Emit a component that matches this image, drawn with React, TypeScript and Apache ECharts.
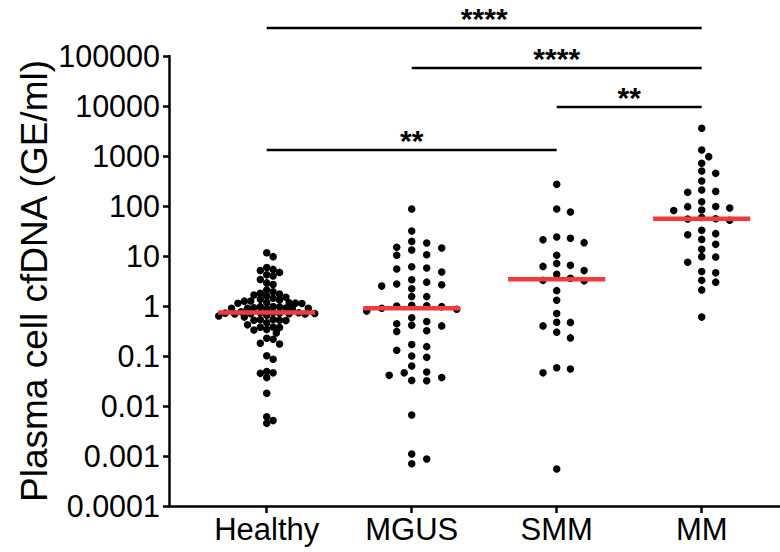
import React, { useEffect, useRef } from "react";
import * as echarts from "echarts";

// ---------- data ----------
const categories = ["Healthy", "MGUS", "SMM", "MM"];
const yTickLabels = ["0.0001", "0.001", "0.01", "0.1", "1", "10", "100", "1000", "10000", "100000"];

const healthy = [
  11.6, 9.7,
  5.9, 5.4, 5.1, 4.7, 4.2, 4.0, 3.4, 2.9, 2.7,
  2.1, 1.93, 1.8, 1.74,
  1.66, 1.58, 1.49, 1.43, 1.36, 1.32, 1.26, 1.25, 1.16, 1.17, 1.13, 1.12, 1.14,
  0.97, 0.98, 0.96, 0.92, 0.9, 0.89, 0.91, 0.9, 0.88, 0.9,
  0.77, 0.73, 0.73, 0.74, 0.71, 0.72, 0.69, 0.69, 0.7, 0.72, 0.7,
  0.65, 0.63, 0.6,
  0.54, 0.52, 0.52, 0.53, 0.51,
  0.46, 0.42,
  0.375, 0.37, 0.38, 0.34, 0.33, 0.29,
  0.226, 0.216, 0.18, 0.174,
  0.101, 0.086,
  0.049, 0.046, 0.045, 0.037,
  0.018,
  0.0061, 0.0051, 0.0045,
];

const mgus = [
  87, 31.6, 19.6, 18.2, 13.2, 14.9, 10.6, 14.5, 10.3,
  5.5, 4.8, 5.75, 6.1, 2.67, 3.36, 2.22, 2.5, 3.0, 2.75,
  1.54, 1.55, 0.9, 1.03, 0.86, 1.0, 0.97, 0.79, 1.01,
  0.4, 0.44, 0.58, 0.32, 0.49, 0.31, 0.41,
  0.17, 0.13, 0.094, 0.154, 0.1, 0.063,
  0.046, 0.032, 0.048, 0.0325, 0.037, 0.041,
  0.0066, 0.0011, 0.0007, 0.00087,
];

const smm = [
  271, 76, 87, 21.2, 22.6, 18.5, 24, 10.3,
  6.2, 7.1, 5.1, 6.5, 4.3, 3.26, 3.6, 3.2, 2.03, 1.3,
  0.71, 0.47, 0.475, 0.4, 0.3, 0.23,
  0.055, 0.046, 0.058, 0.00055,
];

const mm = [
  3575, 1318, 970, 714, 450, 501, 316,
  188, 196, 209, 97, 83, 91, 122, 81, 98,
  59, 52, 55, 55.5, 26.7, 28, 32.6, 21.5, 17.1, 13.6,
  9.5, 7.5, 9.7, 4.6, 4.9, 3.0, 3.26, 2.1, 0.6,
];

const groups = [healthy, mgus, smm, mm];

// significance brackets: from category, to category, bracket height (GE/ml), label
const bracketFrom = ["Healthy", "MGUS", "SMM", "Healthy"];
const bracketTo = ["MM", "MM", "MM", "SMM"];
const bracketLevel = [360000, 57000, 9500, 1300];
const bracketLabel = ["****", "****", "**", "**"];

// ---------- layout / style ----------
const FONT = "'Liberation Sans', Arial, Helvetica, sans-serif";
const SWARM_SPACING = [6.4, 15, 13.7, 14];
const SWARM_VGAP = [6.0, 7.3, 7.3, 7.3];
const DOT = 7.5;
const MEDIAN_HALF = 0.335;
const RED = "#EE3B3B";

function median(a: number[]) {
  const s = [...a].sort((x, y) => x - y);
  const n = s.length;
  return n % 2 ? s[(n - 1) / 2] : Math.sqrt(s[n / 2 - 1] * s[n / 2]);
}

function swarmOffsets(ys: number[], spacing: number, vgap: number): number[] {
  const order = ys.map((_, i) => i).sort((a, b) => ys[a] - ys[b]);
  const placed: { x: number; y: number }[] = [];
  const out = new Array(ys.length).fill(0);
  const g = spacing / 2;
  for (const i of order) {
    const y = ys[i];
    for (let k = 0; k < 400; k++) {
      const slot = k === 0 ? 0 : k % 2 === 1 ? (k + 1) / 2 : -k / 2;
      const x = slot * g;
      let ok = true;
      for (const p of placed) {
        const dx = (x - p.x) / spacing;
        const dy = (y - p.y) / vgap;
        if (dx * dx + dy * dy < 0.999) {
          ok = false;
          break;
        }
      }
      if (ok) {
        out[i] = x;
        placed.push({ x, y });
        break;
      }
    }
  }
  return out;
}

export default function App() {
  const ref = useRef<HTMLDivElement>(null);
  useEffect(() => {
    if (!ref.current) return;
    const chart = echarts.init(ref.current, null, { renderer: "svg" });
    const base: any = {
      animation: false,
      backgroundColor: "#fff",
      grid: { left: 169, right: 0, top: 56, bottom: 46, containLabel: false },
      xAxis: {
        type: "value",
        min: 0.326,
        max: 4.54,
        axisLine: { show: true, onZero: false, lineStyle: { color: "#000", width: 2.5 } },
        axisTick: { show: true, length: 7, customValues: [1, 2, 3, 4], lineStyle: { color: "#000", width: 2.5 } },
        axisLabel: {
          customValues: [1, 2, 3, 4],
          formatter: (v: number) => categories[Math.round(v) - 1] ?? "",
          fontSize: 31,
          color: "#000",
          fontFamily: FONT,
          margin: 8,
        },
        splitLine: { show: false },
      },
      yAxis: {
        type: "log",
        logBase: 10,
        min: 0.0001,
        max: 100000,
        axisLine: { show: true, onZero: false, lineStyle: { color: "#000", width: 2.5 } },
        axisTick: { show: true, length: 6, lineStyle: { color: "#000", width: 2.5 } },
        axisLabel: {
          fontSize: 30.5,
          color: "#000",
          fontFamily: FONT,
          margin: 9,
          formatter: (v: number) => yTickLabels[Math.round(Math.log10(v)) + 4] ?? "",
        },
        splitLine: { show: false },
        minorTick: { show: false },
        name: "Plasma cell cfDNA (GE/ml)",
        nameLocation: "middle",
        nameGap: 116,
        nameMoveOverlap: false,
        nameTextStyle: { fontSize: 37, color: "#000", fontFamily: FONT },
      },
      series: [{ type: "scatter", data: [] }],
    };
    chart.setOption(base);

    const px0 = chart.convertToPixel({ xAxisIndex: 0 }, 1) as number;
    const px1 = chart.convertToPixel({ xAxisIndex: 0 }, 2) as number;
    const unitPx = px1 - px0;

    const series: any[] = [];
    groups.forEach((vals, gi) => {
      const ys = vals.map((v) => chart.convertToPixel({ yAxisIndex: 0 }, v) as number);
      const offs = swarmOffsets(ys, SWARM_SPACING[gi], SWARM_VGAP[gi]);
      series.push({
        type: "scatter",
        name: categories[gi],
        data: vals.map((v, i) => [gi + 1 + offs[i] / unitPx, v]),
        symbol: "circle",
        symbolSize: DOT,
        itemStyle: { color: "#000", opacity: 1 },
        z: 2,
        silent: true,
      });
    });
    groups.forEach((vals, gi) => {
      const m = median(vals);
      series.push({
        type: "line",
        data: [
          [gi + 1 - MEDIAN_HALF, m],
          [gi + 1 + MEDIAN_HALF, m],
        ],
        symbol: "none",
        lineStyle: { color: RED, width: 4.5 },
        z: 3,
        silent: true,
      });
    });

    const graphic: any[] = [];
    bracketFrom.forEach((from, i) => {
      const x1 = chart.convertToPixel({ xAxisIndex: 0 }, categories.indexOf(from) + 1) as number;
      const x2 = chart.convertToPixel({ xAxisIndex: 0 }, categories.indexOf(bracketTo[i]) + 1) as number;
      const y = Math.round(chart.convertToPixel({ yAxisIndex: 0 }, bracketLevel[i]) as number);
      graphic.push({
        type: "line",
        shape: { x1, y1: y, x2, y2: y },
        style: { stroke: "#000", lineWidth: 2.5 },
        silent: true,
      });
      graphic.push({
        type: "text",
        x: (x1 + x2) / 2,
        y: y + 5,
        style: {
          text: bracketLabel[i],
          align: "center",
          verticalAlign: "bottom",
          fontSize: 30,
          fontWeight: "bold",
          fontFamily: FONT,
          fill: "#000",
        },
        silent: true,
      });
    });

    chart.setOption({ series, graphic });
    return () => chart.dispose();
  }, []);
  return (
    <div
      ref={ref}
      style={{ position: "absolute", left: 0, top: 0, width: 780, height: 552 }}
    />
  );
}
